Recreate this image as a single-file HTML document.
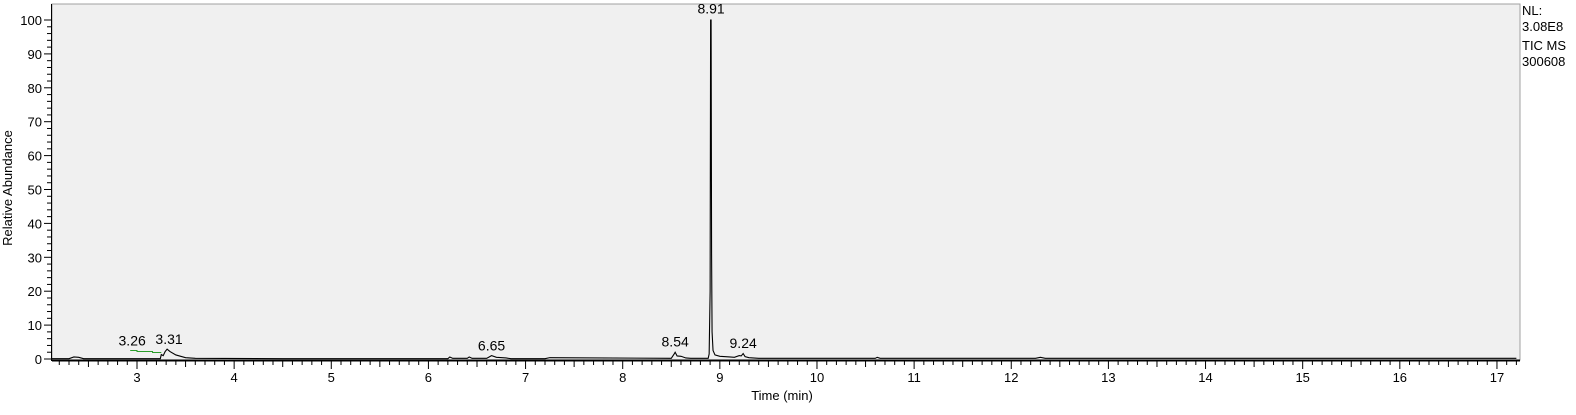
<!DOCTYPE html>
<html><head><meta charset="utf-8"><style>
body{margin:0;background:#fff;width:1576px;height:410px;overflow:hidden;font-family:"Liberation Sans",sans-serif}
svg text{font-family:"Liberation Sans",sans-serif;font-size:13px;fill:#000}
svg text.pk{font-size:14px}
</style></head><body>
<svg id="c" width="1576" height="410"></svg>
<script>
const times=[2.12,2.3,2.35,2.4,2.45,2.6,3.0,3.24,3.25,3.27,3.29,3.31,3.34,3.4,3.5,3.6,4.5,6.2,6.22,6.25,6.4,6.42,6.45,6.6,6.65,6.7,6.8,6.85,7.2,7.25,8.5,8.53,8.54,8.56,8.6,8.65,8.7,8.88,8.89,8.9,8.905,8.91,8.915,8.92,8.93,8.95,9.0,9.1,9.15,9.2,9.22,9.24,9.26,9.3,9.4,10.6,10.62,10.65,12.25,12.3,12.35,17.2];
const values=[0.1,0.1,0.6,0.5,0.1,0.1,0.1,0.1,1.3,1.0,2.2,2.9,2.2,1.2,0.4,0.2,0.1,0.1,0.6,0.2,0.2,0.6,0.2,0.2,1.0,0.5,0.3,0.1,0.1,0.4,0.2,1.5,2.0,0.9,0.8,0.3,0.2,0.2,1.5,20,100,100,31,8,2.5,1.2,0.8,0.6,0.5,1.0,0.9,1.6,0.7,0.4,0.2,0.2,0.5,0.2,0.2,0.5,0.2,0.2];
const labels=[["3.26",2.95,2.5],["3.31",3.33,3.0],["6.65",6.65,1.1],["8.54",8.54,2.2],["8.91",8.91,100.5],["9.24",9.24,1.8]];
const xTicks=[3,4,5,6,7,8,9,10,11,12,13,14,15,16,17];
const yTicks=[0,10,20,30,40,50,60,70,80,90,100];
const NS="http://www.w3.org/2000/svg",svg=document.getElementById('c');
const X=t=>137+(t-3)*97.14, Y=v=>359-v*3.39;
function el(tag,a,p){const e=document.createElementNS(NS,tag);for(const k in a)e.setAttribute(k,a[k]);(p||svg).appendChild(e);return e;}
const bg=el('rect',{x:52,y:4,width:1468,height:356,fill:'#f0f0f0',stroke:'#a0a0a0'});


const xa=el('line',{x1:52,y1:360.5,x2:1520,y2:360.5,stroke:'#000','stroke-width':2});


const ya=el('line',{x1:51.5,y1:4,x2:51.5,y2:361,stroke:'#000'});


for(let i=22;i<=172;i++){const t=i/10,x=X(t);if(x<53||x>1519)continue;const maj=i%10==0;
 el('line',{x1:x,y1:361,x2:x,y2:maj?369:(i%5==0?367:365),stroke:'#000'});}
xTicks.forEach(t=>{const e=el('text',{x:X(t),y:382,'text-anchor':'middle'});e.textContent=t;
 
 });
for(let v=0;v<=100;v+=2){const y=Y(v);el('line',{x1:v%10==0?44:47,y1:y,x2:51,y2:y,stroke:'#000'});}
yTicks.forEach(v=>{const e=el('text',{x:42,y:Y(v)+5,'text-anchor':'end'});e.textContent=v;
 
 });
const xt=el('text',{x:782,y:400,'text-anchor':'middle'});xt.textContent='Time (min)';


const yt=el('text',{x:12,y:188,'text-anchor':'middle',transform:'rotate(-90 12 188)'});yt.textContent='Relative Abundance';


const gl=el('polyline',{points:`${X(2.93)},${Y(2.5)} ${X(3.0)},${Y(2.5)} ${X(3.0)},${Y(2.2)} ${X(3.16)},${Y(2.2)} ${X(3.16)},${Y(1.9)} ${X(3.25)},${Y(1.9)}`,fill:'none',stroke:'#2a9d2a'});


const tr=el('polyline',{points:times.map((t,i)=>X(t)+','+Y(values[i])).join(' '),fill:'none',stroke:'#000','stroke-width':1.1});


labels.forEach(l=>{const e=el('text',{x:X(l[1]),y:Y(l[2])-5,'text-anchor':'middle','class':'pk'});e.textContent=l[0];
 
 });
['NL:','3.08E8','TIC  MS','300608'].forEach((s,i)=>{const e=el('text',{x:1522,y:[15,31,50,66][i]});e.textContent=s;
 
 });
</script>
</body></html>
